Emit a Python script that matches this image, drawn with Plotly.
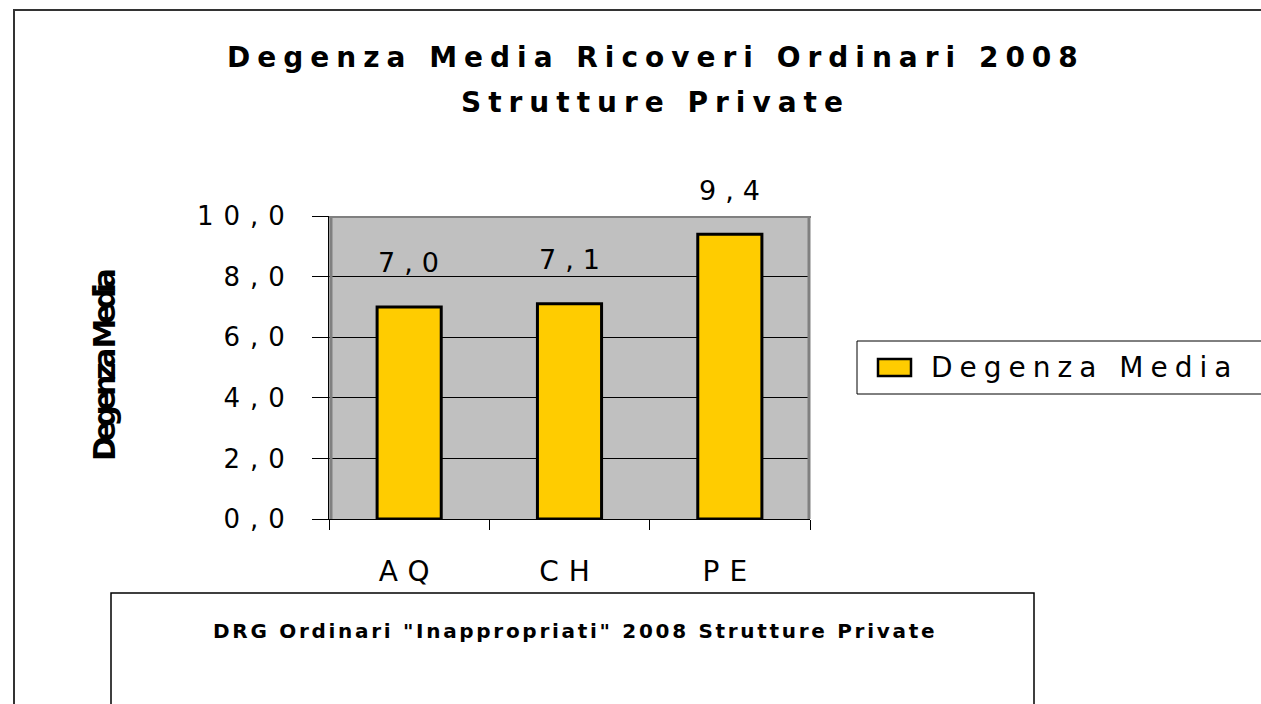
import plotly.graph_objects as go

# ---- data ----
categories = ["AQ", "CH", "PE"]
degenza_media = [7.0, 7.1, 9.4]
y_tick_values = [0, 2, 4, 6, 8, 10]
y_tick_labels = ["0,0", "2,0", "4,0", "6,0", "8,0", "10,0"]
series_name = "Degenza Media"
title_line1 = "Degenza Media Ricoveri Ordinari 2008"
title_line2 = "Strutture Private"
y_title = "Degenza Media"
box_text = 'DRG Ordinari "Inappropriati" 2008 Strutture Private'

# ---- layout geometry (pixels) ----
W, H = 1261, 704
PL, PR, PT, PB = 329, 810, 216, 519
FONT = "DejaVu Sans"
YELLOW = "#FFCC00"


def px(x):
    return (x - PL) / (PR - PL)


def py(y):
    return (PB - y) / (PB - PT)


def spaced(t, s):
    return f'<span style="letter-spacing:{s}px">{t}</span>'


def fmt(v):
    return f"{v:.1f}".replace(".", ",")


fig = go.Figure(
    go.Bar(
        x=categories,
        y=degenza_media,
        name=series_name,
        marker=dict(color=YELLOW, line=dict(color="black", width=3)),
        showlegend=False,
    )
)

annotations = []
for c, v in zip(categories, degenza_media):
    annotations.append(dict(
        x=c, y=v, xref="x", yref="y", text=spaced(fmt(v), 9),
        showarrow=False, yshift=44, xshift=4, xanchor="center", yanchor="middle",
        font=dict(family=FONT, size=27, color="black"),
    ))

# title lines
annotations.append(dict(
    x=px(656), y=py(58), xref="paper", yref="paper",
    text=spaced("<b>" + title_line1 + "</b>", 7), showarrow=False,
    xanchor="center", yanchor="middle",
    font=dict(family=FONT, size=28, color="black"),
))
annotations.append(dict(
    x=px(655), y=py(102), xref="paper", yref="paper",
    text=spaced("<b>" + title_line2 + "</b>", 7), showarrow=False,
    xanchor="center", yanchor="middle",
    font=dict(family=FONT, size=28, color="black"),
))
# y axis title
annotations.append(dict(
    x=px(104), y=py(366), xref="paper", yref="paper",
    text=spaced("<b>" + y_title + "</b>", -5.5), showarrow=False, textangle=-90,
    xanchor="center", yanchor="middle",
    font=dict(family=FONT, size=30, color="black"),
))
# legend text
annotations.append(dict(
    x=px(929), y=py(367), xref="paper", yref="paper",
    text=spaced(series_name, 7), showarrow=False,
    xanchor="left", yanchor="middle",
    font=dict(family=FONT, size=28, color="black"),
))
# bottom box text
annotations.append(dict(
    x=px(575), y=py(631), xref="paper", yref="paper",
    text=spaced("<b>" + box_text + "</b>", 2.7), showarrow=False,
    xanchor="center", yanchor="middle",
    font=dict(family=FONT, size=20, color="black"),
))

shapes = [
    # outer frame
    dict(type="rect", xref="paper", yref="paper", x0=px(14), y0=py(10), x1=px(1320), y1=py(780),
         line=dict(color="#333333", width=2), layer="below"),
    # plot area gray border
    dict(type="line", xref="paper", yref="paper", x0=px(331), x1=px(331), y0=py(216), y1=py(519),
         line=dict(color="#808080", width=3)),
    dict(type="line", xref="paper", yref="paper", x0=px(329), x1=px(811), y0=py(217), y1=py(217),
         line=dict(color="#808080", width=2)),
    dict(type="line", xref="paper", yref="paper", x0=px(809), x1=px(809), y0=py(216), y1=py(519),
         line=dict(color="#808080", width=3)),
    # legend box
    dict(type="rect", xref="paper", yref="paper", x0=px(857), y0=py(341), x1=px(1320), y1=py(394),
         line=dict(color="black", width=1), fillcolor="white"),
    # legend marker
    dict(type="rect", xref="paper", yref="paper", x0=px(878), y0=py(359), x1=px(911), y1=py(376),
         line=dict(color="black", width=2.5), fillcolor=YELLOW),
    # bottom box
    dict(type="rect", xref="paper", yref="paper", x0=px(111), y0=py(593), x1=px(1034), y1=py(780),
         line=dict(color="black", width=1.5), fillcolor="white"),
]

fig.update_layout(
    width=W, height=H,
    margin=dict(l=PL, r=W - PR, t=PT, b=H - PB, pad=0),
    paper_bgcolor="white",
    plot_bgcolor="#C0C0C0",
    bargap=0.6,
    showlegend=False,
    annotations=annotations,
    shapes=shapes,
    font=dict(family=FONT, color="black"),
)
fig.update_xaxes(
    type="category",
    tickvals=categories,
    ticktext=[spaced(c, 10) for c in categories],
    tickfont=dict(family=FONT, size=28, color="black"),
    ticks="outside", tickson="boundaries", ticklen=10, tickcolor="black", tickwidth=1,
    showline=True, linecolor="black", linewidth=1,
    showgrid=False, ticklabelstandoff=27,
)
fig.update_yaxes(
    range=[0, 10],
    tickvals=y_tick_values,
    ticktext=[spaced(t, 10) for t in y_tick_labels],
    tickfont=dict(family=FONT, size=26, color="black"),
    ticks="outside", ticklen=16, tickcolor="black", tickwidth=1,
    showline=True, linecolor="black", linewidth=1,
    showgrid=True, gridcolor="black", gridwidth=1, zeroline=False,
    ticklabelstandoff=12,
)

fig.write_html("out.html", config={"displayModeBar": False},
               post_script="document.body.style.margin='0';")
